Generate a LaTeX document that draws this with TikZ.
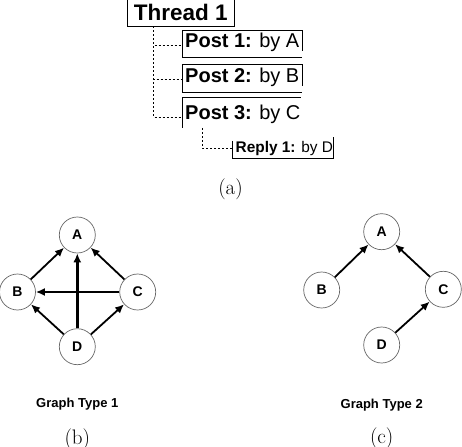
\documentclass[tikz,border=0pt]{standalone}
\usepackage{fontspec}
\setsansfont{Liberation Sans}
\usetikzlibrary{arrows.meta}
\begin{document}
\begin{tikzpicture}[x=1pt,y=-1pt,
  thr/.style={draw, line width=0.9pt, inner sep=0pt, minimum width=107pt, minimum height=29pt,
    font=\sffamily\bfseries\fontsize{22.5}{26}\selectfont},
  posttxt/.style={anchor=base west, inner sep=0pt, font=\sffamily\fontsize{20}{24}\selectfont},
  replytxt/.style={anchor=base west, inner sep=0pt, font=\sffamily\fontsize{15.4}{18}\selectfont},
  boxline/.style={line width=0.9pt},
  tree/.style={line width=0.8pt, dash pattern=on 2pt off 2pt},
  gnode/.style={circle, draw=black!60, line width=0.7pt, minimum size=36pt, inner sep=0pt,
    font=\sffamily\bfseries\fontsize{14}{16}\selectfont},
  arr/.style={-{Latex[length=9pt,width=8pt]}, line width=1.8pt},
  gcaption/.style={font=\sffamily\bfseries\fontsize{13}{15}\selectfont},
  sublabel/.style={anchor=base, inner sep=0pt, font=\fontsize{21}{24}\selectfont}
]
\useasboundingbox (0,0) rectangle (462,446);

% ---------- (a) thread tree ----------
\node[thr] (thread) at (180.8,12) {Thread 1};

\node[posttxt] (p1) at (185,47.7) {\textbf{Post 1:} by A};
\node[posttxt] (p2) at (185,82.7) {\textbf{Post 2:} by B};
\node[posttxt] (p3) at (185,119.3) {\textbf{Post 3:} by C};
\node[replytxt] (r1) at (235.5,152.7) {\textbf{Reply 1:} by D};

% post boxes
\draw[boxline] (182,57) -- (182,30) -- (302,30) -- (302,51);
\draw[boxline] (182,57) -- (302,57);
\draw[boxline] (182,92) -- (182,64) -- (302,64) -- (302,86);
\draw[boxline] (182,92) -- (302,92);
\draw[boxline] (182,128) -- (182,97) -- (301,97);
\draw[boxline] (232,141) -- (232,158) -- (333,158) -- (333,137);

% dashed connectors
\coordinate (trunk) at (153,26.5);
\coordinate (p1l) at (182,45);
\coordinate (p2l) at (182,79);
\coordinate (p3l) at (182,117);
\coordinate (p3b) at (202,128);
\coordinate (r1l) at (232,148);
\draw[tree] (trunk) |- (p1l);
\draw[tree] (trunk) |- (p2l);
\draw[tree] (trunk) |- (p3l);
\draw[tree] (p3b) |- (r1l);

\node[sublabel] (la) at (230.5,194) {(a)};

% ---------- (b) Graph Type 1 ----------
\node[gnode] (A1) at (77.3,235) {A};
\node[gnode] (B1) at (17.5,292) {B};
\node[gnode] (C1) at (137.7,292) {C};
\node[gnode] (D1) at (77.3,346.7) {D};
\draw[arr] (B1) -- (A1);
\draw[arr] (C1) -- (A1);
\draw[arr, line width=2.6pt] (D1) -- (A1);
\draw[arr] (C1) -- (B1);
\draw[arr] (D1) -- (B1);
\draw[arr] (D1) -- (C1);
\node[gcaption] (g1) at (77.3,404.5) {Graph Type 1};
\node[sublabel] (lb) at (77.3,444) {(b)};

% ---------- (c) Graph Type 2 ----------
\node[gnode] (A2) at (381.7,231.7) {A};
\node[gnode] (B2) at (321.7,290) {B};
\node[gnode] (C2) at (443.3,289.3) {C};
\node[gnode] (D2) at (381.7,345) {D};
\draw[arr] (B2) -- (A2);
\draw[arr] (C2) -- (A2);
\draw[arr] (D2) -- (C2);
\node[gcaption] (g2) at (381.7,405) {Graph Type 2};
\node[sublabel] (lc) at (381.7,443) {(c)};
\end{tikzpicture}
\end{document}
